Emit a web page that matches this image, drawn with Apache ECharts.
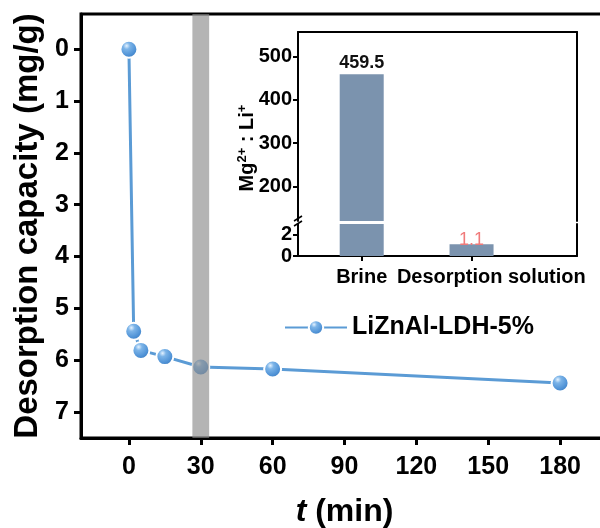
<!DOCTYPE html>
<html>
<head>
<meta charset="utf-8">
<script src="https://cdn.jsdelivr.net/npm/echarts@6/dist/echarts.min.js"></script>
<style>
  html, body { margin: 0; padding: 0; background: #fff; }
  #chart { width: 600px; height: 528px; }
</style>
</head>
<body>
<div id="chart"></div>
<script>
// main plot data
var times = [0, 2, 5, 15, 30, 60, 180];
var capacity = [0, 5.44, 5.81, 5.93, 6.13, 6.17, 6.44];
var xTicks = [0, 30, 60, 90, 120, 150, 180];
var yTicks = [0, 1, 2, 3, 4, 5, 6, 7];
var seriesName = 'LiZnAl-LDH-5%';

// inset data
var insetCategories = ['Brine', 'Desorption solution'];
var insetRatios = [459.5, 1.1];
var insetUpperTicks = [200, 300, 400, 500];
var insetLowerTicks = [0, 2];

var FONT = '"Liberation Sans", Arial, sans-serif';
var lineColor = '#5b9bd5';
var barColor = '#7b93ae';

var ballColor = new echarts.graphic.RadialGradient(0.38, 0.32, 0.72, [
  { offset: 0, color: '#e4f2ff' },
  { offset: 0.25, color: '#7cb4e8' },
  { offset: 0.7, color: '#4f92d6' },
  { offset: 1, color: '#3a78ba' }
]);

var myChart = echarts.init(document.getElementById('chart'));

var pairs = times.map(function (t, i) { return [t, capacity[i]]; });
var insetPos = insetCategories.map(function (c, i) { return i + 1; });
// the long label sits a bit right of its tick in the original
var insetLabelPos = insetPos.map(function (p, i) { return i === 1 ? p + 0.18 : p; });

function bold(size, extra) {
  var s = { fontFamily: FONT, fontWeight: 'bold', fontSize: size, color: '#000' };
  for (var k in extra) s[k] = extra[k];
  return s;
}

var blackLine = function (w) { return { show: true, onZero: false, lineStyle: { color: '#000', width: w } }; };
var hiddenAxis = {
  axisTick: { show: false }, axisLabel: { show: false }, splitLine: { show: false }
};

myChart.setOption({
  animation: false,
  grid: [
    { left: 81, top: 14, width: 527, height: 424, show: true, borderColor: '#000', borderWidth: 3, outerBoundsMode: 'none' },
    { left: 298, top: 32, width: 279, height: 189, outerBoundsMode: 'none' },
    { left: 298, top: 224, width: 279, height: 32, outerBoundsMode: 'none' }
  ],
  legend: {
    data: [seriesName],
    left: 279,
    top: 310,
    itemWidth: 62,
    itemHeight: 18,
    itemGap: 8,
    textStyle: bold(25)
  },
  xAxis: [
    {
      gridIndex: 0, type: 'value', min: -20, max: 200,
      name: '{it|t} (min)', nameLocation: 'middle', nameGap: 58,
      nameTextStyle: bold(32, { rich: { it: bold(32, { fontStyle: 'italic' }) } }),
      axisLine: blackLine(3),
      axisTick: { show: true, length: 7, lineStyle: { color: '#000', width: 3 }, customValues: xTicks },
      axisLabel: Object.assign(bold(25), { margin: 17, customValues: xTicks, showMinLabel: true, showMaxLabel: true }),
      splitLine: { show: false }
    },
    {
      gridIndex: 1, type: 'value', min: 0.42, max: 2.96, position: 'top',
      axisLine: blackLine(2), axisTick: { show: false }, axisLabel: { show: false }, splitLine: { show: false }
    },
    {
      gridIndex: 2, type: 'value', min: 0.42, max: 2.96,
      axisLine: blackLine(2),
      axisTick: { show: true, length: 5, lineStyle: { color: '#000', width: 2 }, customValues: insetPos },
      axisLabel: Object.assign(bold(20), {
        margin: 11, customValues: insetLabelPos, showMinLabel: true, showMaxLabel: true, hideOverlap: false,
        formatter: function (v) { return insetCategories[Math.round(v) - 1] || ''; }
      }),
      splitLine: { show: false }
    }
  ],
  yAxis: [
    {
      gridIndex: 0, type: 'value', inverse: true, min: -0.68, max: 7.5,
      name: 'Desorption capacity (mg/g)', nameLocation: 'middle', nameGap: 34,
      nameTextStyle: bold(33),
      axisLine: blackLine(3),
      axisTick: { show: true, length: 7, lineStyle: { color: '#000', width: 3 }, customValues: yTicks },
      axisLabel: Object.assign(bold(25), { margin: 12, customValues: yTicks, showMinLabel: true, showMaxLabel: true }),
      splitLine: { show: false }
    },
    {
      gridIndex: 1, type: 'value', min: 120, max: 557,
      axisLine: blackLine(2),
      axisTick: { show: true, length: 5, lineStyle: { color: '#000', width: 2 }, customValues: insetUpperTicks },
      axisLabel: Object.assign(bold(20), { margin: 6, customValues: insetUpperTicks, showMinLabel: true, showMaxLabel: true }),
      splitLine: { show: false }
    },
    Object.assign({ gridIndex: 1, type: 'value', min: 120, max: 557, position: 'right' }, hiddenAxis, { axisLine: blackLine(2) }),
    {
      gridIndex: 2, type: 'value', min: 0, max: 3,
      axisLine: blackLine(2),
      axisTick: { show: true, length: 5, lineStyle: { color: '#000', width: 2 }, customValues: insetLowerTicks },
      axisLabel: Object.assign(bold(20), { margin: 6, customValues: insetLowerTicks, showMinLabel: true, showMaxLabel: true }),
      splitLine: { show: false }
    },
    Object.assign({ gridIndex: 2, type: 'value', min: 0, max: 3, position: 'right' }, hiddenAxis, { axisLine: blackLine(2) })
  ],
  graphic: [
    {
      // inset y axis name, spans both halves of the broken axis
      type: 'text', x: 247, y: 148, rotation: Math.PI / 2,
      style: {
        text: '{b|Mg}{s|2+}{b| : Li}{s|+}',
        align: 'center', verticalAlign: 'middle',
        rich: {
          b: bold(20),
          s: bold(13, { padding: [0, 0, 9, 0] })
        }
      }
    },
    // axis break marks
    { type: 'line', shape: { x1: 294, y1: 221, x2: 302, y2: 216 }, style: { stroke: '#000', lineWidth: 1.5 } },
    { type: 'line', shape: { x1: 294, y1: 226, x2: 302, y2: 221 }, style: { stroke: '#000', lineWidth: 1.5 } }
  ],
  series: [
    {
      name: seriesName,
      type: 'line',
      xAxisIndex: 0, yAxisIndex: 0,
      data: pairs,
      symbol: 'circle',
      symbolSize: 17,
      z: 3,
      lineStyle: { color: lineColor, width: 3 },
      itemStyle: { color: ballColor, borderColor: '#fff', borderWidth: 2 }
    },
    {
      // grey band at 30 min, drawn above the line
      name: 'band',
      type: 'line',
      xAxisIndex: 0, yAxisIndex: 0,
      data: [],
      z: 10,
      markArea: {
        silent: true,
        z: 10,
        itemStyle: { color: 'rgba(140,140,140,0.65)' },
        data: [[{ xAxis: 26.5 }, { xAxis: 33.5 }]]
      }
    },
    {
      type: 'bar',
      xAxisIndex: 1, yAxisIndex: 1,
      barWidth: 44,
      clip: true,
      itemStyle: { color: barColor },
      data: insetCategories.map(function (c, i) {
        return {
          value: [i + 1, insetRatios[i]],
          label: { show: i === 0, position: 'top', distance: 2, formatter: String(insetRatios[i]), fontFamily: FONT, fontWeight: 'bold', fontSize: 18, color: '#111' }
        };
      })
    },
    {
      type: 'bar',
      xAxisIndex: 2, yAxisIndex: 3,
      barWidth: 44,
      clip: true,
      itemStyle: { color: barColor },
      data: insetCategories.map(function (c, i) {
        return {
          value: [i + 1, insetRatios[i]],
          label: { show: i === 1, position: 'top', distance: -5, formatter: String(insetRatios[i]), fontFamily: FONT, fontSize: 18, color: '#f07a7a' }
        };
      })
    }
  ]
});
</script>
</body>
</html>
